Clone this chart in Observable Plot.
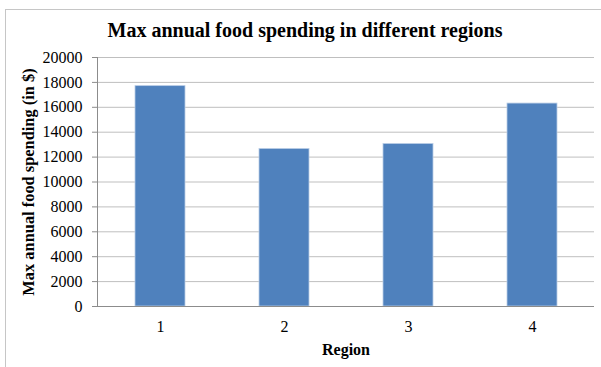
<!DOCTYPE html>
<html><head><meta charset="utf-8">
<script src="https://cdn.jsdelivr.net/npm/d3@7"></script>
<script src="https://cdn.jsdelivr.net/npm/@observablehq/plot@0.6"></script>
<style>
body{margin:0;background:#fff;}
#wrap{position:relative;width:601px;height:367px;overflow:hidden;font-family:"Liberation Serif",serif;}
#border{position:absolute;left:5px;top:9px;width:700px;height:500px;border-top:1.5px solid #c6c6c6;border-left:1.5px solid #c6c6c6;}
#title{position:absolute;left:0;width:610px;top:18px;text-align:center;font-weight:bold;font-size:20px;line-height:24px;color:#000;}
#chart{position:absolute;left:0;top:0;}
#chart svg text{font-family:"Liberation Serif",serif !important;font-size:16px !important;}
#chart g[aria-label="y-axis label"] text{font-weight:bold;font-size:16.4px !important;}
#chart g[aria-label="x-axis label"] text{font-weight:bold;font-size:16px !important;}
</style>
</head><body>
<div id="wrap"><div id="border"></div><div id="title">Max annual food spending in different regions</div><div id="chart"></div></div>
<script>
const regions = ["1", "2", "3", "4"];
const values = [17700, 12650, 13050, 16300];
const yTicks = [0, 2000, 4000, 6000, 8000, 10000, 12000, 14000, 16000, 18000, 20000];
const title = "Max annual food spending in different regions";
const yLabel = "Max annual food spending (in $)";
const xLabel = "Region";

const data = regions.map((r, i) => ({region: r, value: values[i]}));

const chart = Plot.plot({
  width: 601, height: 367,
  marginTop: 57, marginBottom: 61, marginLeft: 97, marginRight: 7,
  style: {fontFamily: "Liberation Serif", fontSize: "16px", color: "#000", background: "transparent"},
  x: {domain: regions, paddingInner: 0.6, paddingOuter: 0.3, label: null},
  y: {domain: [0, 20000], label: null},
  marks: [
    Plot.gridY({ticks: yTicks, stroke: "#bfbfbf", strokeOpacity: 1}),
    Plot.barY(data, {x: "region", y: "value", fill: "#4F81BD", stroke: "#b9cde5", strokeWidth: 0.8}),
    Plot.ruleY([0], {stroke: "#8c8c8c"}),
    Plot.frame({anchor: "left", stroke: "#8c8c8c"}),
    Plot.axisY({ticks: yTicks, tickSize: 5, tickPadding: 10, tickFormat: d => String(d), stroke: "#8c8c8c",
      label: yLabel, labelAnchor: "center", labelArrow: "none", labelOffset: 75}),
    Plot.axisX({tickSize: 0, tickPadding: 14, label: xLabel, labelAnchor: "center", labelArrow: "none", labelOffset: 48})
  ]
});
document.getElementById("chart").appendChild(chart);
document.getElementById("title").textContent = title;
</script>
</body></html>
